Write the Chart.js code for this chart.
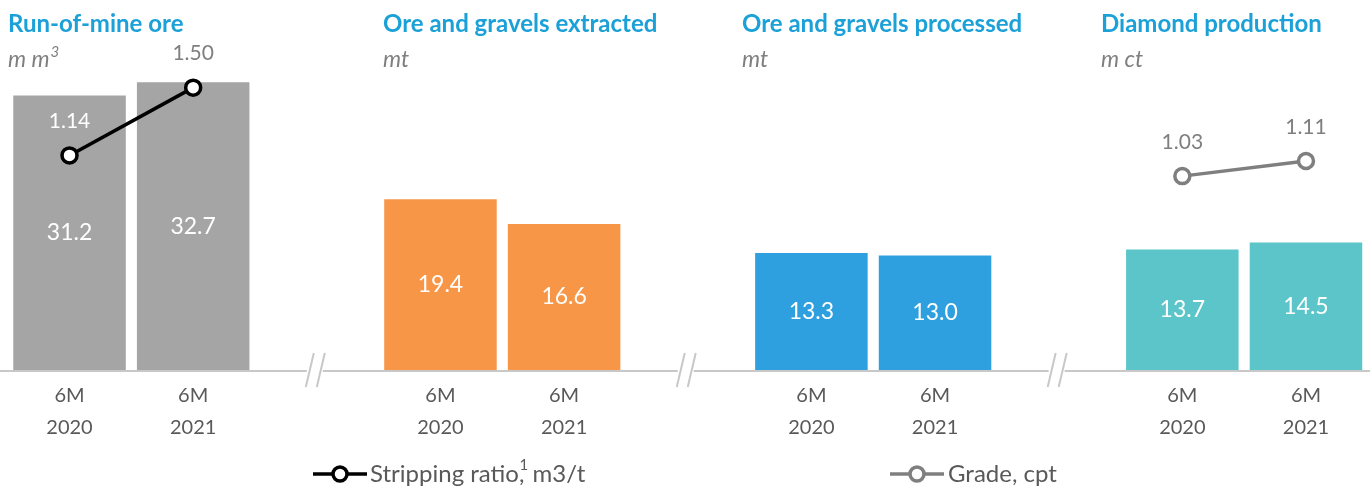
<!DOCTYPE html>
<html>
<head>
<meta charset="utf-8">
<script src="https://cdn.jsdelivr.net/npm/chart.js@4.4.0/dist/chart.umd.min.js"></script>
<style>
  html, body { margin: 0; padding: 0; background: #fff; }
  #wrap { width: 1370px; height: 488px; position: relative; }
</style>
</head>
<body>
<div id="wrap"><canvas id="myChart"></canvas></div>
<script>
// categories (empty slots are the axis breaks between panels)
const categories = [['6M', '2020'], ['6M', '2021'], '', ['6M', '2020'], ['6M', '2021'], '',
  ['6M', '2020'], ['6M', '2021'], '', ['6M', '2020'], ['6M', '2021']];
const barValues = [31.2, 32.7, null, 19.4, 16.6, null, 13.3, 13.0, null, 13.7, 14.5];
const strippingRatio = [1.14, 1.50, null, null, null, null, null, null, null, null, null];
const grade = [null, null, null, null, null, null, null, null, null, 1.03, 1.11];
const panelTitles = ['Run-of-mine ore', 'Ore and gravels extracted', 'Ore and gravels processed', 'Diamond production'];
const panelUnits = [['m m', '3'], ['mt', ''], ['mt', ''], ['m ct', '']];

const barColors = ['#A5A5A5', '#A5A5A5', null, '#F79646', '#F79646', null,
  '#2E9FDF', '#2E9FDF', null, '#5BC5CA', '#5BC5CA'];
const FONT = 'Lato, "Open Sans", sans-serif';
const GREY = '#595959';

const panelPlugin = {
  id: 'panels',
  afterDraw(chart) {
    const ctx = chart.ctx;
    const x = chart.scales.x;
    const area = chart.chartArea;
    ctx.save();
    // axis line
    ctx.strokeStyle = '#C8C8C8';
    ctx.lineWidth = 2;
    ctx.beginPath();
    ctx.moveTo(0, area.bottom + 1);
    ctx.lineTo(chart.width, area.bottom + 1);
    ctx.stroke();
    // axis breaks
    [2, 5, 8].forEach(i => {
      const cx = x.getPixelForValue(i) - 8;
      ctx.strokeStyle = '#FFFFFF';
      ctx.lineWidth = 8;
      ctx.beginPath();
      ctx.moveTo(cx - 2, area.bottom + 1);
      ctx.lineTo(cx + 14, area.bottom + 1);
      ctx.stroke();
      ctx.strokeStyle = '#C8C8C8';
      ctx.lineWidth = 2;
      [0, 11].forEach(d => {
        ctx.beginPath();
        ctx.moveTo(cx + d - 3, area.bottom + 17);
        ctx.lineTo(cx + d + 5, area.bottom - 17);
        ctx.stroke();
      });
    });
    // panel titles
    const titleX = [8, 383, 742, 1101];
    ctx.textAlign = 'left';
    ctx.textBaseline = 'middle';
    panelTitles.forEach((t, i) => {
      ctx.fillStyle = '#1BA1D8';
      ctx.font = 'bold 24px ' + FONT;
      ctx.fillText(t, titleX[i], 24);
      ctx.fillStyle = '#7F7F7F';
      ctx.font = 'italic 23px ' + FONT;
      ctx.fillText(panelUnits[i][0], titleX[i], 60);
      if (panelUnits[i][1]) {
        const w = ctx.measureText(panelUnits[i][0]).width;
        ctx.font = 'italic 15px ' + FONT;
        ctx.fillText(panelUnits[i][1], titleX[i] + w + 1, 52);
      }
    });
    // bar value labels
    const barMeta = chart.getDatasetMeta(2);
    ctx.textAlign = 'center';
    ctx.font = '23px ' + FONT;
    ctx.fillStyle = '#FFFFFF';
    barMeta.data.forEach((el, i) => {
      if (barValues[i] == null) return;
      ctx.fillText(barValues[i].toFixed(1), el.x, (el.y + el.base) / 2);
    });
    // line value labels
    ctx.font = '21px ' + FONT;
    [[0, strippingRatio], [1, grade]].forEach(([di, vals]) => {
      chart.getDatasetMeta(di).data.forEach((pt, i) => {
        if (vals[i] == null) return;
        const ly = pt.y - 34;
        const inside = barValues[i] != null && chart.scales.y.getPixelForValue(barValues[i]) < ly - 10;
        ctx.fillStyle = inside ? '#FFFFFF' : '#7F7F7F';
        ctx.fillText(vals[i].toFixed(2), pt.x, ly);
      });
    });
    // legend
    const ly = 474;
    const drawSym = (sx, color) => {
      ctx.strokeStyle = color;
      ctx.lineWidth = 3.5;
      ctx.beginPath();
      ctx.moveTo(sx, ly);
      ctx.lineTo(sx + 54, ly);
      ctx.stroke();
      ctx.fillStyle = '#FFFFFF';
      ctx.beginPath();
      ctx.arc(sx + 27, ly, 7, 0, Math.PI * 2);
      ctx.fill();
      ctx.stroke();
    };
    drawSym(313, '#000000');
    drawSym(890, '#7F7F7F');
    ctx.fillStyle = GREY;
    ctx.textAlign = 'left';
    ctx.font = '24px ' + FONT;
    let tx = 370;
    ctx.fillText('Stripping ratio,', tx, ly);
    tx += ctx.measureText('Stripping ratio,').width;
    ctx.font = '15px ' + FONT;
    ctx.fillText('1', tx - 5, ly - 9);
    ctx.font = '24px ' + FONT;
    ctx.fillText(' m3/t', tx + 2, ly);
    ctx.fillText('Grade, cpt', 948, ly);
    ctx.restore();
  }
};

const myChart = new Chart(document.getElementById('myChart').getContext('2d'), {
  data: {
    labels: categories,
    datasets: [
      {
        type: 'line',
        label: 'Stripping ratio, m3/t',
        data: strippingRatio,
        yAxisID: 'y1',
        borderColor: '#000000',
        borderWidth: 3.5,
        pointRadius: 7.5,
        pointBorderWidth: 3.5,
        pointBackgroundColor: '#FFFFFF',
        pointBorderColor: '#000000',
        order: 0
      },
      {
        type: 'line',
        label: 'Grade, cpt',
        data: grade,
        yAxisID: 'y1',
        borderColor: '#7F7F7F',
        borderWidth: 3.5,
        pointRadius: 7.5,
        pointBorderWidth: 3.5,
        pointBackgroundColor: '#FFFFFF',
        pointBorderColor: '#7F7F7F',
        order: 0
      },
      {
        type: 'bar',
        label: 'Volume',
        data: barValues,
        backgroundColor: barColors,
        categoryPercentage: 1,
        barPercentage: 0.91,
        order: 1
      }
    ]
  },
  options: {
    responsive: true,
    maintainAspectRatio: false,
    animation: false,
    layout: { autoPadding: false, padding: { left: 7.7, right: 2.2, top: 18, bottom: 0 } },
    plugins: {
      legend: { display: false },
      tooltip: { enabled: false }
    },
    scales: {
      x: {
        grid: { display: false, drawTicks: false },
        border: { display: false },
        ticks: {
          color: GREY,
          font: { family: FONT, size: 20, lineHeight: 1.6 },
          padding: 10,
          maxRotation: 0,
          autoSkip: false
        },
        afterFit(scale) { scale.height = 118; }
      },
      y: {
        display: false,
        min: 0,
        max: 40
      },
      y1: {
        display: false,
        min: 0,
        max: 1.87
      }
    }
  },
  plugins: [panelPlugin]
});
</script>
</body>
</html>
